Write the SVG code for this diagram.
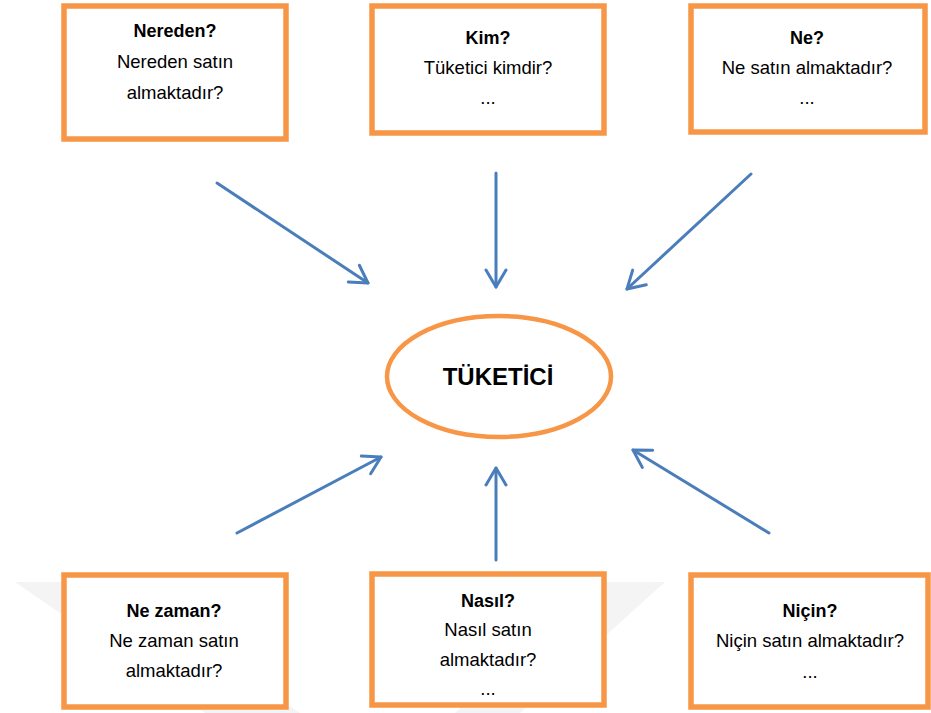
<svg xmlns="http://www.w3.org/2000/svg" width="931" height="713" viewBox="0 0 931 713">
<defs>
<style>
.box{fill:#fff;stroke:#f79646;stroke-width:5.5}
.ell{fill:#fff;stroke:#f79646;stroke-width:4.5}
.t{font-family:"Liberation Sans",Arial,sans-serif;font-size:18.5px;fill:#000;text-anchor:middle}
.b{font-weight:bold;font-size:18px}
.big{font-family:"Liberation Sans",Arial,sans-serif;font-weight:bold;font-size:24px;fill:#000;text-anchor:middle}
.arr{fill:none;stroke:#4a7ebb;stroke-width:3;stroke-linecap:round;marker-end:url(#ah)}
.wm{fill:#f4f4f4}
</style>
<marker id="ah" markerUnits="userSpaceOnUse" markerWidth="24" markerHeight="24" viewBox="-20 -12 24 24" refX="0" refY="0" orient="auto">
<path d="M-17,-10 L0,0 L-17,10" fill="none" stroke="#4a7ebb" stroke-width="3" stroke-linecap="round" stroke-linejoin="round"/>
</marker>
</defs>
<rect width="931" height="713" fill="#fff"/>
<g id="watermark">
<polygon class="wm" points="15,582 110,582 300,713 205,713"/>
<polygon class="wm" points="600,582 665,582 520,713 455,713"/>
<polygon class="wm" points="690,640 720,640 690,680"/>
</g>
<g id="connectors">
<line class="arr" x1="217" y1="183" x2="368" y2="283"/>
<line class="arr" x1="496" y1="173" x2="496" y2="287"/>
<line class="arr" x1="751" y1="174" x2="627" y2="289"/>
<line class="arr" x1="237" y1="533" x2="381" y2="457"/>
<line class="arr" x1="496" y1="560" x2="496" y2="468"/>
<line class="arr" x1="769" y1="533" x2="633" y2="450"/>
</g>
<g id="node-tuketici">
<ellipse class="ell" cx="499" cy="376.5" rx="112" ry="60.5"/>
<text class="big" x="498" y="385">TÜKETİCİ</text>
</g>
<g id="node-nereden">
<rect class="box" x="64" y="6" width="222" height="133"/>
<text class="t b" x="175" y="37">Nereden?</text>
<text class="t" x="175" y="68">Nereden satın</text>
<text class="t" x="175" y="99">almaktadır?</text>
</g>
<g id="node-kim">
<rect class="box" x="372" y="6" width="232" height="127"/>
<text class="t b" x="488" y="44">Kim?</text>
<text class="t" x="488" y="74">Tüketici kimdir?</text>
<text class="t" x="488" y="104">...</text>
</g>
<g id="node-ne">
<rect class="box" x="691" y="6" width="234" height="126"/>
<text class="t b" x="807" y="44">Ne?</text>
<text class="t" x="807" y="74">Ne satın almaktadır?</text>
<text class="t" x="807" y="104">...</text>
</g>
<g id="node-nezaman">
<rect class="box" x="64" y="575" width="222" height="132"/>
<text class="t b" x="174" y="617">Ne zaman?</text>
<text class="t" x="174" y="647">Ne zaman satın</text>
<text class="t" x="174" y="677">almaktadır?</text>
</g>
<g id="node-nasil">
<rect class="box" x="372" y="574" width="232" height="131"/>
<text class="t b" x="488" y="607">Nasıl?</text>
<text class="t" x="488" y="636">Nasıl satın</text>
<text class="t" x="488" y="666">almaktadır?</text>
<text class="t" x="488" y="695">...</text>
</g>
<g id="node-nicin">
<rect class="box" x="691" y="575" width="237" height="132"/>
<text class="t b" x="810" y="617">Niçin?</text>
<text class="t" x="810" y="647">Niçin satın almaktadır?</text>
<text class="t" x="810" y="678">...</text>
</g>
</svg>
